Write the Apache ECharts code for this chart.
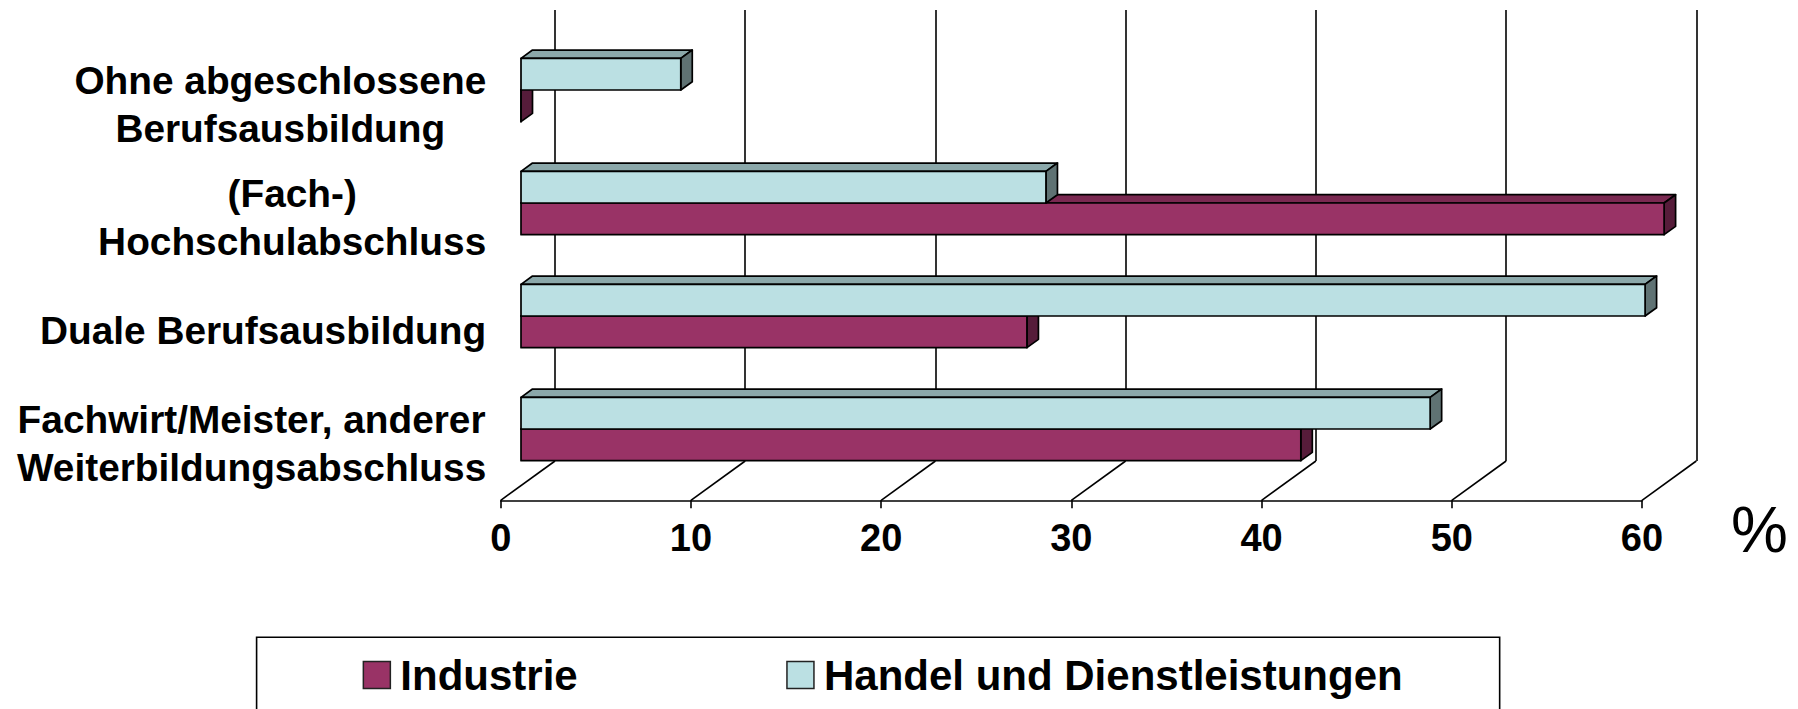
<!DOCTYPE html>
<html>
<head>
<meta charset="utf-8">
<script src="https://cdn.jsdelivr.net/npm/echarts@6/dist/echarts.min.js"></script>
<style>
html,body{margin:0;padding:0;background:#ffffff;}
#chart{width:1798px;height:709px;}
</style>
</head>
<body>
<div id="chart"></div>
<script>
// ---- data ----
const categories = [
  'Ohne abgeschlossene\nBerufsausbildung',
  '(Fach-)\nHochschulabschluss',
  'Duale Berufsausbildung',
  'Fachwirt/Meister, anderer\nWeiterbildungsabschluss'
];
const seriesNames = ['Industrie', 'Handel und Dienstleistungen'];
const industrie = [0, 60.1, 26.6, 41.0];
const handel = [8.4, 27.6, 59.1, 47.8];
const xTicks = [0, 10, 20, 30, 40, 50, 60];
const unitLabel = '%';

// ---- styling ----
const FONT = "'Liberation Sans', Arial, Helvetica, sans-serif";
const DEPTH_DX = 54.3, DEPTH_DY = 39.3;   // floor depth (front -> back wall)
const BAR_DX = 11.5, BAR_DY = 8.3;        // bar depth
const indColors = {front: '#993366', top: '#7a2951', side: '#561c3a'};
const hanColors = {front: '#bbe0e3', top: '#8ba8aa', side: '#5f7273'};

function make3DBar(colors, above) {
  return function (params, api) {
    const v = api.value(0), i = api.value(1);
    const a = api.coord([0, i]);
    const b = api.coord([v, i]);
    const band = api.size([0, 1])[1];
    const h = band * 0.28;
    const x0 = a[0], x1 = b[0];
    const y0 = above ? a[1] - h : a[1];
    const y1 = y0 + h;
    const st = {stroke: '#000', lineWidth: 1.7, lineJoin: 'round'};
    return {
      type: 'group',
      children: [
        {type: 'polygon', shape: {points: [[x0, y0], [x1, y0], [x1 + BAR_DX, y0 - BAR_DY], [x0 + BAR_DX, y0 - BAR_DY]]},
         style: Object.assign({fill: colors.top}, st)},
        {type: 'polygon', shape: {points: [[x1, y0], [x1 + BAR_DX, y0 - BAR_DY], [x1 + BAR_DX, y1 - BAR_DY], [x1, y1]]},
         style: Object.assign({fill: colors.side}, st)},
        {type: 'rect', shape: {x: x0, y: y0, width: Math.max(0, x1 - x0), height: h},
         style: Object.assign({fill: colors.front}, st)}
      ]
    };
  };
}

const chart = echarts.init(document.getElementById('chart'), null, {renderer: 'svg'});

const option = {
  animation: false,
  backgroundColor: '#ffffff',
  grid: [
    // bar plane
    {left: 521, right: 135.8, top: 33.5, bottom: 223.5},
    // front floor plane (axis + category labels)
    {left: 500.7, right: 156, top: 48.3, bottom: 208.7},
    // back wall (gridlines)
    {left: 555, right: 101.7, top: 10, bottom: 248}
  ],
  xAxis: [
    {gridIndex: 0, type: 'value', min: 0, max: 60, interval: 10, show: false},
    {gridIndex: 1, type: 'value', min: xTicks[0], max: xTicks[xTicks.length - 1], interval: 10,
     axisLine: {show: true, lineStyle: {color: '#000', width: 1.6}},
     axisTick: {show: true, inside: false, length: 8, lineStyle: {color: '#000', width: 1.6}},
     splitLine: {show: false},
     axisLabel: {show: true, margin: 19, color: '#000', fontSize: 38, fontWeight: 'bold', fontFamily: FONT}},
    {gridIndex: 2, type: 'value', min: 0, max: 60, interval: 10,
     axisLine: {show: false}, axisTick: {show: false}, axisLabel: {show: false},
     splitLine: {show: true, lineStyle: {color: '#000', width: 1.6}}}
  ],
  yAxis: [
    {gridIndex: 0, type: 'category', data: categories, inverse: true, show: false},
    {gridIndex: 1, type: 'category', data: categories, inverse: true,
     axisLine: {show: false}, axisTick: {show: false}, splitLine: {show: false},
     axisLabel: {
       show: true, margin: 14.5, align: 'right', color: '#000',
       fontSize: 38.8, fontWeight: 'bold', fontFamily: FONT, lineHeight: 48,
       formatter: function (val) {
         return val.split('\n').map(function (l) { return '{c|' + l + '}'; }).join('\n');
       },
       rich: {c: {align: 'center', fontSize: 38.8, fontWeight: 'bold', fontFamily: FONT, lineHeight: 48, color: '#000'}}
     }},
    {gridIndex: 2, type: 'value', min: 0, max: 1, show: false}
  ],
  legend: {
    data: seriesNames,
    left: 256.6, top: 637.3,
    orient: 'horizontal',
    icon: 'rect',
    itemWidth: 27, itemHeight: 27,
    itemGap: 208.5,
    padding: [16.7, 97, 60, 106],
    borderColor: '#000', borderWidth: 1.6,
    itemStyle: {borderColor: '#222', borderWidth: 1.5},
    textStyle: {fontSize: 42, fontWeight: 'bold', fontFamily: FONT, color: '#000', padding: [0, 0, 0, 5]}
  },
  graphic: [
    {type: 'text', left: 1731, top: 498,
     style: {text: unitLabel, fontSize: 64, fontFamily: FONT, fill: '#000'}}
  ],
  series: [
    {
      type: 'custom', name: 'floor', xAxisIndex: 2, yAxisIndex: 2, silent: true, z: 1,
      data: xTicks.map(function (v) { return [v, 0]; }),
      renderItem: function (params, api) {
        const q = api.coord([api.value(0), 0]);
        return {type: 'line', shape: {x1: q[0], y1: q[1], x2: q[0] - DEPTH_DX, y2: q[1] + DEPTH_DY},
                style: {stroke: '#000', lineWidth: 1.6}};
      }
    },
    {
      type: 'custom', name: seriesNames[0], xAxisIndex: 0, yAxisIndex: 0, z: 3,
      itemStyle: {color: indColors.front},
      data: industrie.map(function (v, i) { return [v, i]; }),
      encode: {x: 0, y: 1},
      renderItem: make3DBar(indColors, false)
    },
    {
      type: 'custom', name: seriesNames[1], xAxisIndex: 0, yAxisIndex: 0, z: 4,
      itemStyle: {color: hanColors.front},
      data: handel.map(function (v, i) { return [v, i]; }),
      encode: {x: 0, y: 1},
      renderItem: make3DBar(hanColors, true)
    }
  ]
};
chart.setOption(option);
</script>
</body>
</html>
